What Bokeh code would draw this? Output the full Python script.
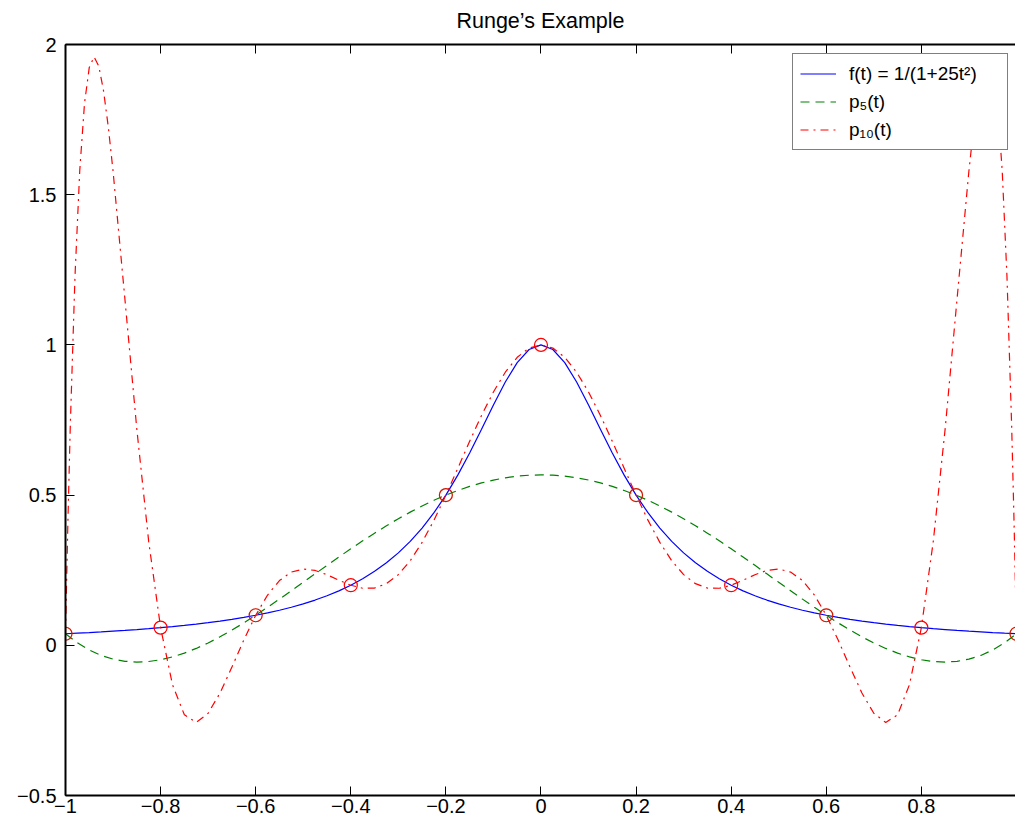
from bokeh.plotting import figure
from bokeh.models import Range1d, FixedTicker, LinearAxis, Legend, LegendItem
from bokeh.embed import file_html
from bokeh.resources import INLINE

# ---------------- data ----------------
t_curve = [-1.0, -0.975, -0.95, -0.925, -0.9, -0.875, -0.85, -0.825, -0.8, -0.775,
           -0.75, -0.725, -0.7, -0.675, -0.65, -0.625, -0.6, -0.575, -0.55, -0.525,
           -0.5, -0.475, -0.45, -0.425, -0.4, -0.375, -0.35, -0.325, -0.3, -0.275,
           -0.25, -0.225, -0.2, -0.175, -0.15, -0.125, -0.1, -0.075, -0.05, -0.025,
           0.0,
           0.025, 0.05, 0.075, 0.1, 0.125, 0.15, 0.175, 0.2, 0.225, 0.25,
           0.275, 0.3, 0.325, 0.35, 0.375, 0.4, 0.425, 0.45, 0.475, 0.5,
           0.525, 0.55, 0.575, 0.6, 0.625, 0.65, 0.675, 0.7, 0.725, 0.75,
           0.775, 0.8, 0.825, 0.85, 0.875, 0.9, 0.925, 0.95, 0.975, 1.0]

f_curve = [0.0385, 0.0404, 0.0424, 0.0447, 0.0471, 0.0497, 0.0525, 0.0555, 0.0588, 0.0624,
           0.0664, 0.0707, 0.0755, 0.0807, 0.0865, 0.0929, 0.1000, 0.1079, 0.1168, 0.1267,
           0.1379, 0.1506, 0.1649, 0.1813, 0.2000, 0.2215, 0.2462, 0.2747, 0.3077, 0.3459,
           0.3902, 0.4414, 0.5000, 0.5664, 0.6400, 0.7191, 0.8000, 0.8767, 0.9412, 0.9846,
           1.0000,
           0.9846, 0.9412, 0.8767, 0.8000, 0.7191, 0.6400, 0.5664, 0.5000, 0.4414, 0.3902,
           0.3459, 0.3077, 0.2747, 0.2462, 0.2215, 0.2000, 0.1813, 0.1649, 0.1506, 0.1379,
           0.1267, 0.1168, 0.1079, 0.1000, 0.0929, 0.0865, 0.0807, 0.0755, 0.0707, 0.0664,
           0.0624, 0.0588, 0.0555, 0.0525, 0.0497, 0.0471, 0.0447, 0.0424, 0.0404, 0.0385]

p5_curve = [0.0385, 0.0082, -0.0157, -0.0337, -0.0460, -0.0533, -0.0558, -0.0539, -0.0481, -0.0386,
            -0.0260, -0.0104, 0.0078, 0.0282, 0.0506, 0.0746, 0.1000, 0.1265, 0.1537, 0.1816,
            0.2097, 0.2380, 0.2661, 0.2939, 0.3212, 0.3477, 0.3733, 0.3979, 0.4213, 0.4433,
            0.4638, 0.4828, 0.5000, 0.5154, 0.5290, 0.5406, 0.5501, 0.5576, 0.5630, 0.5662,
            0.5673,
            0.5662, 0.5630, 0.5576, 0.5501, 0.5406, 0.5290, 0.5154, 0.5000, 0.4828, 0.4638,
            0.4433, 0.4213, 0.3979, 0.3733, 0.3477, 0.3212, 0.2939, 0.2661, 0.2380, 0.2097,
            0.1816, 0.1537, 0.1265, 0.1000, 0.0746, 0.0506, 0.0282, 0.0078, -0.0104, -0.0260,
            -0.0386, -0.0481, -0.0539, -0.0558, -0.0533, -0.0460, -0.0337, -0.0157, 0.0082, 0.0385]

t_p10 = [-1.0, -0.995, -0.99, -0.98, -0.97, -0.96, -0.95, -0.94, -0.93, -0.92, -0.91,
         -0.9, -0.875, -0.85, -0.825, -0.8, -0.775, -0.75, -0.725, -0.7, -0.675,
         -0.65, -0.625, -0.6, -0.575, -0.55, -0.525, -0.5, -0.475, -0.45, -0.425,
         -0.4, -0.375, -0.35, -0.325, -0.3, -0.275, -0.25, -0.225, -0.2, -0.175,
         -0.15, -0.125, -0.1, -0.075, -0.05, -0.025,
         0.0,
         0.025, 0.05, 0.075, 0.1, 0.125, 0.15, 0.175, 0.2, 0.225, 0.25,
         0.275, 0.3, 0.325, 0.35, 0.375, 0.4, 0.425, 0.45, 0.475, 0.5,
         0.525, 0.55, 0.575, 0.6, 0.625, 0.65, 0.675, 0.7, 0.725, 0.75,
         0.775, 0.8, 0.825, 0.85, 0.875, 0.9,
         0.91, 0.92, 0.93, 0.94, 0.95, 0.96, 0.97, 0.98, 0.99, 0.995, 1.0]

p10_curve = [0.0385, 0.4072, 0.7261, 1.2303, 1.5810, 1.8044, 1.9236, 1.9589, 1.9280, 1.8459, 1.7257,
             1.5788, 1.1516, 0.7195, 0.3450, 0.0588, -0.1312, -0.2315, -0.2569, -0.2262, -0.1588,
             -0.0726, 0.0175, 0.1000, 0.1674, 0.2156, 0.2438, 0.2538, 0.2492, 0.2350, 0.2167,
             0.2000, 0.1899, 0.1906, 0.2052, 0.2353, 0.2815, 0.3426, 0.4166, 0.5000, 0.5890,
             0.6790, 0.7653, 0.8434, 0.9090, 0.9586, 0.9895,
             1.0000,
             0.9895, 0.9586, 0.9090, 0.8434, 0.7653, 0.6790, 0.5890, 0.5000, 0.4166, 0.3426,
             0.2815, 0.2353, 0.2052, 0.1906, 0.1899, 0.2000, 0.2167, 0.2350, 0.2492, 0.2538,
             0.2438, 0.2156, 0.1674, 0.1000, 0.0175, -0.0726, -0.1588, -0.2262, -0.2569, -0.2315,
             -0.1312, 0.0588, 0.3450, 0.7195, 1.1516, 1.5788,
             1.7257, 1.8459, 1.9280, 1.9589, 1.9236, 1.8044, 1.5810, 1.2303, 0.7261, 0.4072, 0.0385]

t_nodes = [-1.0, -0.8, -0.6, -0.4, -0.2, 0.0, 0.2, 0.4, 0.6, 0.8, 1.0]
y_nodes = [0.0385, 0.0588, 0.1, 0.2, 0.5, 1.0, 0.5, 0.2, 0.1, 0.0588, 0.0385]
t_nodes5 = [-1.0, -0.6, -0.2, 0.2, 0.6, 1.0]
y_nodes5 = [0.0385, 0.1, 0.5, 0.5, 0.1, 0.0385]

x_ticks = [-1.0, -0.8, -0.6, -0.4, -0.2, 0.0, 0.2, 0.4, 0.6, 0.8, 1.0]
x_tick_labels = ["\u22121", "\u22120.8", "\u22120.6", "\u22120.4", "\u22120.2", "0",
                 "0.2", "0.4", "0.6", "0.8", "1"]
y_ticks = [-0.5, 0.0, 0.5, 1.0, 1.5, 2.0]
y_tick_labels = ["\u22120.5", "0", "0.5", "1", "1.5", "2"]

title_text = "Runge\u2019s Example"
legend_labels = ["f(t) = 1/(1+25t\u00b2)", "p\u2085(t)", "p\u2081\u2080(t)"]

FONT = "Liberation Sans"

# ---------------- figure ----------------
p = figure(width=1015, height=825,
           x_range=Range1d(-1.0, 0.998), y_range=Range1d(-0.5, 2.0),
           output_backend="svg", toolbar_location=None,
           min_border_left=65, min_border_right=0, min_border_top=44, min_border_bottom=30)
p.outline_line_color = None
p.xgrid.visible = False
p.ygrid.visible = False
p.background_fill_color = "white"
p.border_fill_color = "white"

xax = p.xaxis[0]
yax = p.yaxis[0]
top_ax = LinearAxis()

xax.ticker = FixedTicker(ticks=x_ticks)
xax.major_label_overrides = dict(zip(x_ticks, x_tick_labels))
top_ax.ticker = FixedTicker(ticks=x_ticks)
yax.ticker = FixedTicker(ticks=y_ticks)
yax.major_label_overrides = dict(zip(y_ticks, y_tick_labels))

for ax in (xax, yax, top_ax):
    ax.axis_line_color = "black"
    ax.axis_line_width = 2
    ax.major_tick_in = 9
    ax.major_tick_out = 0
    ax.minor_tick_in = 0
    ax.minor_tick_out = 0
    ax.major_tick_line_color = "black"
    ax.major_tick_line_width = 1
    ax.major_label_text_font = FONT
    ax.major_label_text_font_size = "20px"
    ax.major_label_text_color = "black"

xax.major_label_standoff = 3
yax.major_label_standoff = 9

# top axis: no tick labels, carries the chart title as its axis label
top_ax.major_label_text_font_size = "0px"
top_ax.major_label_standoff = 0
top_ax.axis_label = title_text
top_ax.axis_label_text_font = FONT
top_ax.axis_label_text_font_size = "21.5px"
top_ax.axis_label_text_font_style = "normal"
top_ax.axis_label_text_color = "black"
top_ax.axis_label_standoff = 12
p.add_layout(top_ax, "above")

# ---------------- data renderers ----------------
r_f = p.line(t_curve, f_curve, line_color="#0000ff", line_width=1.2)
r_p5 = p.line(t_curve, p5_curve, line_color="#008000", line_width=1.2, line_dash="9 6")
r_p10 = p.line(t_p10, p10_curve, line_color="#ff0000", line_width=1.2, line_dash="8 5 2 5")

p.scatter(t_nodes, y_nodes, marker="circle", size=13, fill_color=None,
          line_color="#ff0000", line_width=1.2)
p.scatter(t_nodes5, y_nodes5, marker="circle", size=13, fill_color=None,
          line_color="#008000", line_alpha=0.2, line_width=1.2)

# ---------------- legend ----------------
legend = Legend(items=[LegendItem(label=legend_labels[0], renderers=[r_f]),
                       LegendItem(label=legend_labels[1], renderers=[r_p5]),
                       LegendItem(label=legend_labels[2], renderers=[r_p10])],
                location=(727, 645), padding=7, spacing=3,
                label_height=25, glyph_height=25, glyph_width=36,
                label_standoff=13, label_width=151, margin=0,
                label_text_font=FONT, label_text_font_size="19px",
                label_text_color="black",
                border_line_color="black", border_line_width=1,
                background_fill_color="white", background_fill_alpha=1.0)
p.add_layout(legend)

open("out.html", "w").write(file_html(p, INLINE))
